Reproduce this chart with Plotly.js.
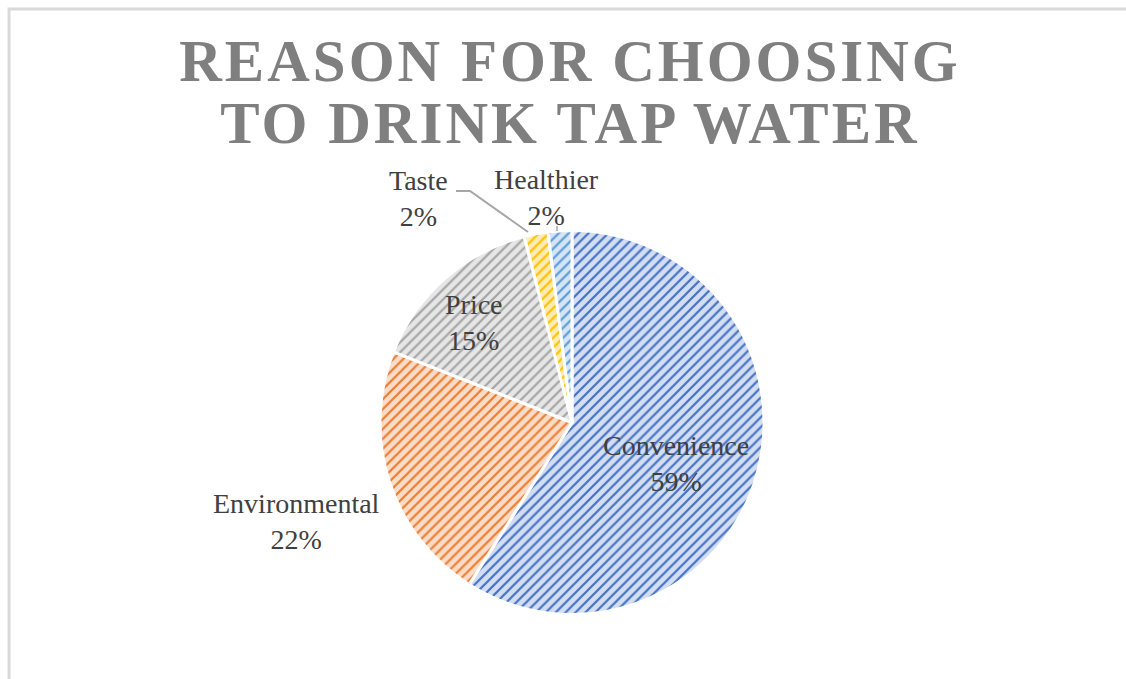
<!DOCTYPE html>
<html>
<head>
<meta charset="utf-8">
<script src="https://cdn.plot.ly/plotly-3.0.1.min.js"></script>
<style>
html, body { margin: 0; padding: 0; background: #fff; }
#chart { width: 1126px; height: 679px; }
.gtitle { letter-spacing: 3px; }
</style>
</head>
<body>
<div id="chart"></div>
<script>
const categories = ["Convenience", "Environmental", "Price", "Taste", "Healthier"];
const shares = [59, 22, 15, 2, 2];
const fillColors = ["#d3def2", "#fbdcc8", "#e6e6e6", "#ffecb3", "#d5e5f5"];
const lineColors = ["#4472c4", "#ed7d31", "#a5a5a5", "#ffc000", "#5b9bd5"];

const W = 1126, H = 679;
const px = v => v / W;
const py = v => 1 - v / H;
const serif = "Liberation Serif, Times New Roman, serif";

// label block centres (pixels), one per category
const labelAnchors = [[676, 463], [296, 521], [474, 322], [418, 198], [546, 197]];

const total = shares.reduce((a, b) => a + b, 0);

const trace = {
  type: "pie",
  labels: categories,
  values: shares,
  sort: false,
  direction: "clockwise",
  rotation: 0,
  textinfo: "none",
  marker: {
    colors: fillColors,
    line: { color: "#ffffff", width: 3 },
    pattern: {
      shape: "/",
      fgcolor: lineColors,
      bgcolor: fillColors,
      size: 7,
      solidity: 0.32,
      fillmode: "replace"
    }
  },
  domain: { x: [px(380), px(764)], y: [py(615), py(230)] },
  showlegend: false,
  hoverinfo: "label+percent"
};

const annotations = categories.map((c, i) => ({
  xref: "paper", yref: "paper",
  x: px(labelAnchors[i][0]), y: py(labelAnchors[i][1]),
  xanchor: "center", yanchor: "middle",
  text: c + "<br>" + Math.round(shares[i] / total * 100) + "%",
  showarrow: false,
  font: { family: serif, size: 28, color: "#404040" }
}));

const layout = {
  width: W,
  height: H,
  margin: { l: 0, r: 0, t: 0, b: 0 },
  paper_bgcolor: "#ffffff",
  title: {
    text: "<b>REASON FOR CHOOSING<br>TO DRINK TAP WATER</b>",
    font: { family: serif, size: 59, color: "#7f7f7f" },
    x: px(570),
    xanchor: "center",
    y: 0.95,
    yanchor: "top",
    yref: "container"
  },
  annotations: annotations,
  shapes: [
    {
      type: "rect", xref: "paper", yref: "paper",
      x0: px(9), x1: 1.2, y0: -0.2, y1: py(9),
      line: { color: "#d9d9d9", width: 3 }, fillcolor: "rgba(0,0,0,0)"
    },
    {
      type: "path", xref: "paper", yref: "paper",
      path: `M ${px(456)},${py(191)} L ${px(470)},${py(191)} L ${px(528)},${py(232)}`,
      line: { color: "#a6a6a6", width: 2 }
    },
    {
      type: "line", xref: "paper", yref: "paper",
      x0: px(557), x1: px(557), y0: py(226), y1: py(231),
      line: { color: "#a6a6a6", width: 1.5 }
    }
  ]
};

Plotly.newPlot("chart", [trace], layout, { staticPlot: true }).then(function () {
  const t = document.querySelector(".gtitle");
  if (t) {
    t.removeAttribute("transform");
    t.removeAttribute("dy");
    t.setAttribute("y", 81);
    const lines = t.querySelectorAll("tspan.line");
    lines.forEach(function (l, i) {
      l.setAttribute("y", 81 + i * 62);
      l.setAttribute("dy", "0");
    });
  }
});
</script>
</body>
</html>
